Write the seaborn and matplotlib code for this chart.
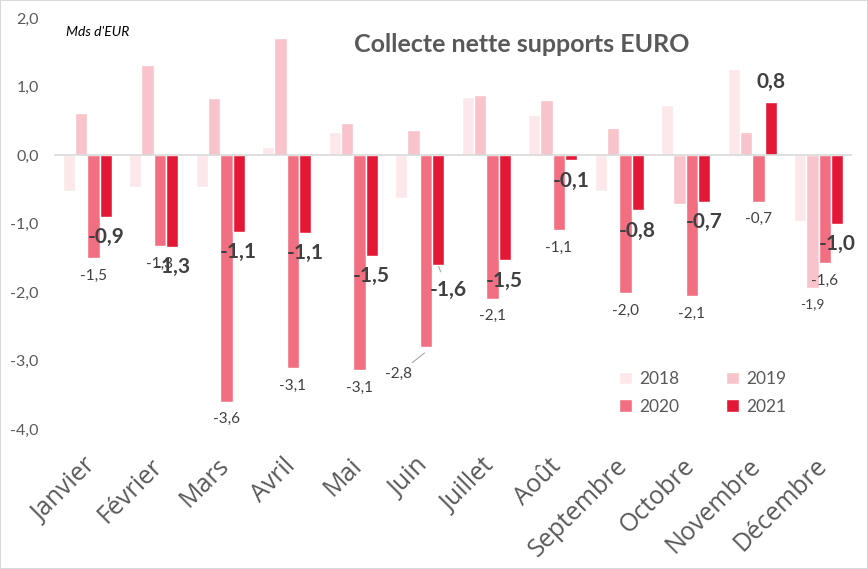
import matplotlib
matplotlib.use("Agg")
import matplotlib.pyplot as plt
import matplotlib.transforms as mtransforms
from matplotlib.patches import Rectangle
import seaborn as sns
import pandas as pd

# ---- data ----
months = ["Janvier", "Février", "Mars", "Avril", "Mai", "Juin", "Juillet",
          "Août", "Septembre", "Octobre", "Novembre", "Décembre"]
years = ["2018", "2019", "2020", "2021"]
v2018 = [-0.52, -0.47, -0.46, 0.12, 0.33, -0.63, 0.85, 0.58, -0.52, 0.73, 1.25, -0.97]
v2019 = [0.61, 1.32, 0.83, 1.71, 0.47, 0.36, 0.87, 0.80, 0.39, -0.72, 0.34, -1.94]
v2020 = [-1.51, -1.33, -3.60, -3.11, -3.14, -2.81, -2.10, -1.10, -2.02, -2.06, -0.68, -1.58]
v2021 = [-0.90, -1.34, -1.12, -1.14, -1.47, -1.61, -1.54, -0.08, -0.81, -0.68, 0.78, -1.00]
yticks = [-4, -3, -2, -1, 0, 1, 2]
colors = ["#FCE8EB", "#F9C3CC", "#F26F82", "#E31837"]

title = "Collecte nette supports EURO"
unit = "Mds d'EUR"

df = pd.DataFrame({"Mois": months, "2018": v2018, "2019": v2019,
                   "2020": v2020, "2021": v2021})
long = df.melt(id_vars="Mois", var_name="Année", value_name="Valeur")

def fr(v):
    return f"{v:.1f}".replace(".", ",")

# ---- figure ----
sns.set_style("white")
plt.rcParams["font.family"] = ["Lato", "DejaVu Sans"]

fig = plt.figure(figsize=(8.68, 5.69), dpi=100)
ax = fig.add_axes([54 / 868, 1 - 429 / 569, (852 - 54) / 868, (429 - 18) / 569])

sns.barplot(data=long, x="Mois", y="Valeur", hue="Année", hue_order=years,
            order=months, palette=colors, saturation=1, width=0.74,
            ax=ax, legend=True)

ax.set_ylim(-4, 2)
ax.set_xlim(-0.5, len(months) - 0.5)
ax.axhline(0, color="#D9D9D9", lw=1.2, zorder=5)
for s in ax.spines.values():
    s.set_visible(False)
ax.set_xlabel("")
ax.set_ylabel("")

ax.set_yticks(yticks)
ax.set_yticklabels([fr(float(t)) for t in yticks], fontsize=11.5, color="#595959")
ax.tick_params(axis="y", length=0, pad=11)
ax.tick_params(axis="x", length=0, pad=24)
ax.set_xticks(range(len(months)))
ax.set_xticklabels(months, rotation=45, ha="right", va="center",
                   rotation_mode="anchor", fontsize=18, color="#595959",
                   family=["Open Sans", "DejaVu Sans"])
offset = mtransforms.ScaledTranslation(5 / 100, 0, fig.dpi_scale_trans)
for lbl in ax.get_xticklabels():
    lbl.set_transform(lbl.get_transform() + offset)

# ---- data labels ----
c2019, c2020, c2021 = ax.containers[1], ax.containers[2], ax.containers[3]

def bar_end(bar):
    xc = bar.get_x() + bar.get_width() / 2
    return xc, bar.get_y() + bar.get_height()

for i, bar in enumerate(c2020):
    xc, yend = bar_end(bar)
    if months[i] == "Juin":
        ax.annotate(fr(v2020[i]), xy=(xc - 0.02, yend - 0.08), xytext=(-19, -15),
                    textcoords="offset points", ha="center", va="center",
                    fontsize=11, color="#404040",
                    arrowprops=dict(arrowstyle="-", color="#A6A6A6", lw=0.8,
                                    shrinkA=1, shrinkB=0))
    else:
        ax.annotate(fr(v2020[i]), xy=(xc, yend), xytext=(0, -12.5),
                    textcoords="offset points", ha="center", va="center",
                    fontsize=11, color="#404040")

for i, bar in enumerate(c2021):
    xc, yend = bar_end(bar)
    if months[i] == "Juin":
        ax.annotate(fr(v2021[i]), xy=(xc, yend), xytext=(7, -18),
                    textcoords="offset points", ha="center", va="center",
                    fontsize=15, fontweight="bold", color="#404040",
                    arrowprops=dict(arrowstyle="-", color="#A6A6A6", lw=0.8,
                                    shrinkA=4, shrinkB=1))
    elif yend < 0:
        ax.annotate(fr(v2021[i]), xy=(xc, yend), xytext=(0, -14.5),
                    textcoords="offset points", ha="center", va="center",
                    fontsize=15, fontweight="bold", color="#404040")
    else:
        ax.annotate(fr(v2021[i]), xy=(xc, yend), xytext=(0, 14),
                    textcoords="offset points", ha="center", va="center",
                    fontsize=15, fontweight="bold", color="#404040")

# December 2019 label
i = months.index("Décembre")
xc, yend = bar_end(c2019[i])
ax.annotate(fr(v2019[i]), xy=(xc, yend), xytext=(0, -11.5),
            textcoords="offset points", ha="center", va="center",
            fontsize=10, color="#404040")

# ---- legend (rows: 2018 2019 / 2020 2021) ----
old = ax.get_legend()
handles = list(old.legend_handles)
labels = [t.get_text() for t in old.get_texts()]
old.remove()
order = [0, 2, 1, 3]
ax.legend([handles[k] for k in order], [labels[k] for k in order],
          loc="upper left", bbox_to_anchor=(619 / 868, 1 - 371 / 569),
          bbox_transform=fig.transFigure, ncol=2, frameon=False,
          fontsize=12.5, labelcolor="#595959",
          handlelength=0.75, handleheight=0.75, handletextpad=0.4,
          columnspacing=2.7, labelspacing=0.68, borderpad=0,
          borderaxespad=0)

# ---- texts ----
fig.text(522 / 868, 1 - 44 / 569, title, ha="center", va="center",
         fontsize=18, fontweight="bold", color="#595959")
fig.text(66 / 868, 1 - 32 / 569, unit, ha="left", va="center",
         fontsize=10, style="italic", color="black")

fig.patches.append(Rectangle((0, 0), 1, 1, transform=fig.transFigure,
                             fill=False, edgecolor="#D9D9D9", lw=1.5))

fig.savefig("out.png", dpi=100)
